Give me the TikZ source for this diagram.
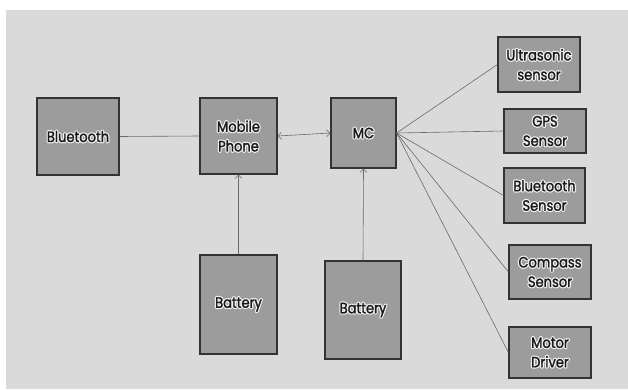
\documentclass[tikz,border=0pt]{standalone}
\usepackage{fontspec}
\usetikzlibrary{arrows.meta}
\setmainfont{Poppins}[FakeStretch=0.87]

\definecolor{bggray}{HTML}{DADADA}
\definecolor{boxgray}{HTML}{9C9C9C}
\definecolor{wiregray}{HTML}{6A6A6A}

\tikzset{
  block/.style={draw=black!80, line width=1.1pt, fill=boxgray, inner sep=0pt},
  caption/.style={align=center, inner sep=0pt, text=black!90,
    font=\fontsize{15}{19.5}\selectfont\addfontfeature{FakeBold=1.5}},
  glow/.style={caption, text=white!85!boxgray,
    font=\fontsize{15}{19.5}\selectfont\addfontfeature{FakeBold=18}},
  wire/.style={wiregray, line width=0.6pt},
}

% box, white glow and label in one go: name, centre, width, height, text
\newcommand{\blk}[5]{%
  \node[block, minimum width=#3, minimum height=#4] (#1) at (#2) {};
  \node[glow] (#1-glow) at (#1) {\pgfsetroundjoin #5};
  \node[caption] (#1-text) at (#1) {#5};
}

\begin{document}
\begin{tikzpicture}[x=1pt, y=-1pt, >={Straight Barb[length=3.5pt, width=7pt]}]
\useasboundingbox (0,0) rectangle (628,389);
\fill[bggray] (6,10) rectangle (628,389);

\blk{bt}{78,136.5}{82pt}{77pt}{Bluetooth}
\blk{phone}{238.5,136}{77pt}{76pt}{Mobile\\Phone}
\blk{mc}{363.5,133}{65pt}{70pt}{MC}
\blk{bat1}{238.5,304.5}{77pt}{99pt}{Battery}
\blk{bat2}{363,310}{76pt}{98pt}{Battery}

\blk{us}{539,64.5}{82pt}{55pt}{Ultrasonic\\sensor}
\blk{gps}{545,131}{82pt}{44pt}{GPS\\Sensor}
\blk{bts}{544.5,195.5}{81pt}{55pt}{Bluetooth\\Sensor}
\blk{cmp}{550,272}{82pt}{54pt}{Compass\\Sensor}
\blk{mot}{550,352.5}{82pt}{51pt}{Motor\\Driver}

\draw[wire] (bt.east) -- (phone.west);
\draw[wire, <->] (phone.east) -- (mc.west);
\draw[wire, ->] (bat1.north) -- (phone.south);
\draw[wire, ->] (bat2.north) -- (mc.south);

\foreach \s in {us, gps, bts, cmp, mot}
{
	\draw[wire] (mc.east) -- (\s.west);
}
\end{tikzpicture}
\end{document}
